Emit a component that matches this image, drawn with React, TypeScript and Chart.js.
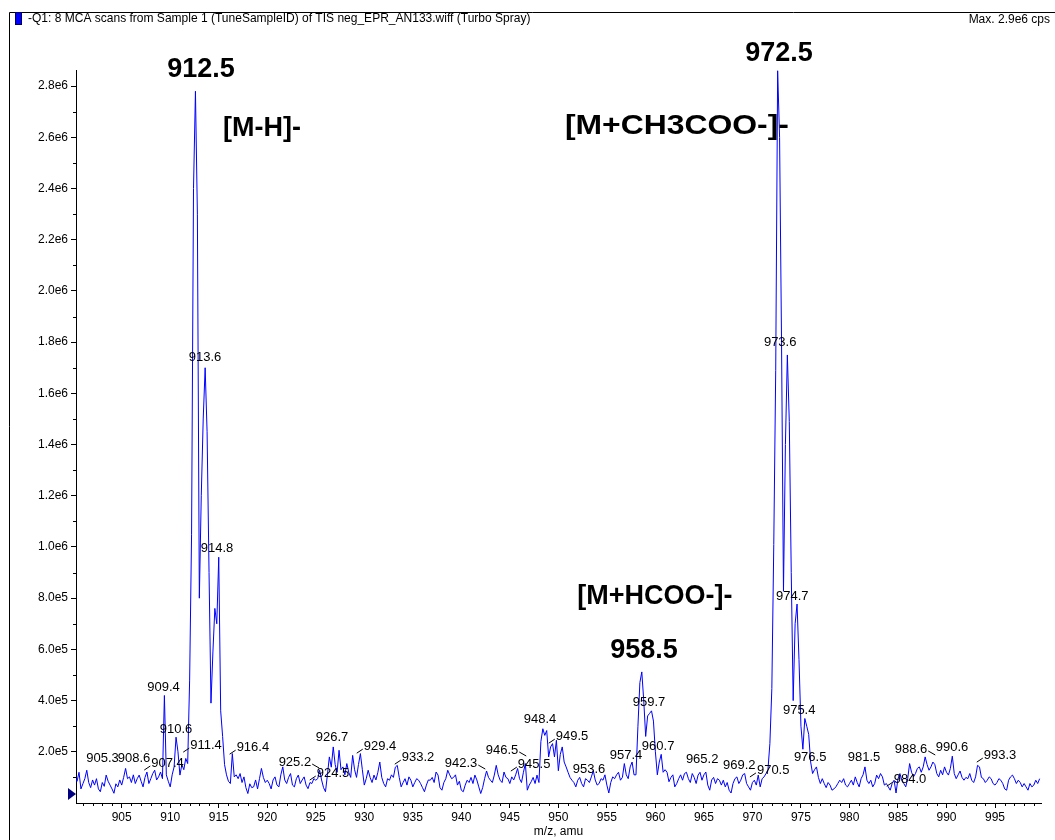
import React, { useEffect, useRef } from 'react';
import { Chart, registerables } from 'chart.js';

Chart.register(...registerables);

// ---------------- data ----------------
const TITLE_TEXT = '-Q1: 8 MCA scans from Sample 1 (TuneSampleID) of TIS neg_EPR_AN133.wiff (Turbo Spray)';
const MAX_TEXT = 'Max. 2.9e6 cps';
const X_AXIS_TITLE = 'm/z, amu';

// sampling grid of the spectrum (m/z of first point and spacing)
const MZ_START = 900.2;
const MZ_STEP = 0.2;

// intensities in thousands of cps, one row per amu (x.2, x.4, x.6, x.8, x+1.0)
const INTENSITY_K = [
  100, 85, 120, 55, 75, // 900
  95, 128, 80, 60, 90, // 901
  70, 95, 55, 44, 80, // 902
  65, 109, 85, 70, 55, // 903
  38, 75, 63, 90, 70, // 904
  100, 135, 95, 102, 80, // 905
  110, 76, 95, 109, 85, // 906
  63, 100, 121, 76, 95, // 907
  115, 128, 90, 102, 121, // 908
  95, 420, 110, 85, 63, // 909
  110, 141, 257, 200, 109, // 910
  150, 130, 174, 154, 480, // 911
  1050, 2400, 2780, 2300, 800, // 912
  1200, 1500, 1700, 1450, 900, // 913
  390, 590, 760, 700, 960, // 914
  360, 260, 150, 110, 85, // 915
  76, 193, 102, 110, 95, // 916
  115, 80, 102, 60, 37, // 917
  75, 60, 63, 90, 55, // 918
  95, 135, 100, 80, 89, // 919
  76, 55, 90, 102, 70, // 920
  63, 110, 141, 90, 76, // 921
  100, 115, 70, 63, 95, // 922
  109, 76, 90, 102, 70, // 923
  56, 80, 76, 95, 89, // 924
  95, 128, 90, 60, 44, // 925
  110, 180, 140, 219, 150, // 926
  120, 206, 130, 141, 110, // 927
  154, 120, 100, 186, 130, // 928
  100, 150, 193, 130, 70, // 929
  95, 128, 100, 80, 109, // 930
  90, 120, 160, 100, 76, // 931
  63, 95, 89, 110, 100, // 932
  140, 147, 100, 63, 80, // 933
  95, 70, 102, 89, 63, // 934
  80, 95, 89, 76, 60, // 935
  44, 70, 90, 89, 100, // 936
  80, 121, 109, 60, 50, // 937
  80, 95, 128, 110, 95, // 938
  100, 110, 70, 85, 50, // 939
  44, 70, 89, 80, 100, // 940
  76, 109, 90, 63, 37, // 941
  60, 95, 125, 100, 89, // 942
  80, 109, 147, 110, 89, // 943
  80, 121, 100, 95, 76, // 944
  102, 90, 110, 135, 95, // 945
  80, 120, 154, 50, 70, // 946
  83, 100, 76, 109, 80, // 947
  240, 290, 264, 283, 180, // 948
  219, 232, 180, 245, 126, // 949
  190, 219, 160, 141, 120, // 950
  100, 89, 80, 63, 89, // 951
  100, 76, 63, 95, 89, // 952
  80, 102, 126, 90, 70, // 953
  76, 95, 89, 110, 70, // 954
  39, 80, 102, 95, 110, // 955
  120, 89, 100, 154, 110, // 956
  95, 141, 160, 110, 110, // 957
  300, 470, 512, 400, 260, // 958
  340, 350, 360, 320, 200, // 959
  110, 160, 190, 120, 130, // 960
  120, 83, 100, 110, 63, // 961
  76, 95, 110, 89, 115, // 962
  120, 95, 80, 115, 100, // 963
  76, 109, 120, 89, 110, // 964
  121, 70, 50, 90, 100, // 965
  76, 95, 89, 70, 89, // 966
  63, 80, 50, 39, 76, // 967
  95, 102, 76, 89, 110, // 968
  115, 76, 63, 50, 80, // 969
  89, 70, 109, 63, 95, // 970
  102, 115, 130, 232, 447, // 971
  1010, 1690, 2860, 2600, 1800, // 972
  827, 1400, 1750, 1490, 900, // 973
  400, 700, 777, 560, 300, // 974
  210, 330, 300, 268, 160, // 975
  115, 130, 141, 100, 76, // 976
  95, 76, 60, 80, 70, // 977
  50, 55, 63, 76, 89, // 978
  80, 95, 70, 63, 76, // 979
  89, 70, 102, 80, 63, // 980
  95, 110, 141, 89, 76, // 981
  89, 63, 76, 109, 95, // 982
  115, 102, 70, 76, 63, // 983
  50, 76, 89, 39, 95, // 984
  115, 89, 76, 63, 95, // 985
  154, 120, 102, 115, 135, // 986
  141, 120, 141, 180, 150, // 987
  128, 141, 160, 150, 115, // 988
  102, 128, 110, 141, 120, // 989
  109, 135, 183, 115, 95, // 990
  110, 125, 100, 89, 100, // 991
  95, 115, 89, 80, 102, // 992
  147, 141, 100, 95, 80, // 993
  89, 102, 95, 76, 70, // 994
  80, 95, 89, 76, 55, // 995
  50, 89, 102, 109, 95, // 996
  76, 89, 80, 63, 76, // 997
  63, 50, 76, 63, 70, // 998
  89, 76, 95, // 999
];

// axis ranges and labelled ticks
const X_MIN = 900.29;
const X_MAX = 999.74;
const Y_MIN = 0;
const Y_MAX = 2863000;
const X_TICKS = [905, 910, 915, 920, 925, 930, 935, 940, 945, 950, 955, 960, 965, 970, 975, 980, 985, 990, 995];
const Y_TICKS = [200000, 400000, 600000, 800000, 1000000, 1200000, 1400000, 1600000, 1800000, 2000000, 2200000, 2400000, 2600000, 2800000];
const Y_TICK_LABELS = ['2.0e5', '4.0e5', '6.0e5', '8.0e5', '1.0e6', '1.2e6', '1.4e6', '1.6e6', '1.8e6', '2.0e6', '2.2e6', '2.4e6', '2.6e6', '2.8e6'];

// small peak annotations: text and its anchor (m/z, intensity); lead = leader line side
const PEAK_LABEL_TEXT = ['905.3', '908.6', '907.4', '909.4', '910.6', '911.4', '913.6', '914.8', '916.4', '925.2', '924.5', '926.7', '929.4', '933.2', '942.3', '946.5', '945.5', '948.4', '949.5', '953.6', '957.4', '959.7', '960.7', '965.2', '969.2', '970.5', '973.6', '974.7', '975.4', '976.5', '981.5', '984.0', '988.6', '990.6', '993.3'];
const PEAK_LABEL_MZ = [903.02, 906.27, 909.72, 909.31, 910.6, 913.69, 913.58, 914.82, 918.52, 922.85, 926.78, 926.67, 931.62, 935.54, 939.97, 944.19, 947.5, 948.11, 951.41, 953.16, 956.97, 959.35, 960.28, 964.82, 968.64, 972.14, 972.86, 974.1, 974.82, 975.95, 981.5, 986.24, 986.34, 990.57, 995.52];
const PEAK_LABEL_Y = [175e3, 175e3, 156e3, 452e3, 289e3, 226e3, 1742e3, 995e3, 218e3, 160e3, 117e3, 257e3, 222e3, 179e3, 156e3, 207e3, 152e3, 328e3, 261e3, 132e3, 187e3, 394e3, 222e3, 171e3, 148e3, 129e3, 1800e3, 807e3, 363e3, 179e3, 179e3, 93e3, 211e3, 218e3, 187e3];
const PEAK_LABEL_LEAD = ['', '', 'L', '', '', 'L', '', '', 'L', 'R', 'L', '', 'L', 'L', 'R', 'R', 'L', '', 'L', '', '', '', '', '', '', 'L', '', '', '', '', '', 'L', 'R', '', 'L'];

// large ion annotations
const ION_LABEL_TEXT = ['912.5', '[M-H]-', '972.5', '[M+CH3COO-]-', '[M+HCOO-]-', '958.5'];
const ION_LABEL_MZ = [913.17, 919.46, 972.74, 962.22, 959.95, 958.83];
const ION_LABEL_Y = [2863e3, 2636e3, 2926e3, 2644e3, 808e3, 597e3];
// rendered text widths in the reference (px)
const ION_LABEL_WIDTH = [70, 80, 68, 224, 160, 66];

// ---------------- component ----------------
const FONT = '"Liberation Sans", Arial, sans-serif';

export default function App() {
  const canvasRef = useRef<HTMLCanvasElement | null>(null);

  useEffect(() => {
    const canvas = canvasRef.current;
    if (!canvas) return;

    const points = INTENSITY_K.map((v, i) => ({
      x: +(MZ_START + MZ_STEP * i).toFixed(1),
      y: v * 1000,
    }));

    const decor = {
      id: 'decor',
      beforeDraw(chart: any) {
        const ctx = chart.ctx;
        ctx.save();
        ctx.fillStyle = '#ffffff';
        ctx.fillRect(0, 0, chart.width, chart.height);
        // frame
        ctx.strokeStyle = '#000';
        ctx.lineWidth = 1;
        ctx.beginPath();
        ctx.moveTo(9.5, 840);
        ctx.lineTo(9.5, 12.5);
        ctx.lineTo(1055, 12.5);
        ctx.stroke();
        // header marker
        ctx.fillStyle = '#0000ff';
        ctx.fillRect(15, 12, 7, 13);
        ctx.strokeStyle = '#000060';
        ctx.strokeRect(15.5, 12.5, 6, 12);
        // header text
        ctx.fillStyle = '#000';
        ctx.textBaseline = 'middle';
        ctx.textAlign = 'left';
        ctx.font = `12px ${FONT}`;
        const w = ctx.measureText(TITLE_TEXT).width;
        const fs = Math.min(13, 12 * 503 / w);
        ctx.font = `${fs}px ${FONT}`;
        ctx.fillText(TITLE_TEXT, 28, 19);
        ctx.textAlign = 'right';
        ctx.font = `12px ${FONT}`;
        ctx.fillText(MAX_TEXT, 1050, 20);
        ctx.restore();
      },
      afterDatasetsDraw(chart: any) {
        const ctx = chart.ctx;
        const xs = chart.scales.x;
        const ys = chart.scales.y;
        const area = chart.chartArea;
        ctx.save();
        // minor ticks
        ctx.strokeStyle = '#000';
        ctx.lineWidth = 1;
        ctx.beginPath();
        for (let m = Math.ceil(X_MIN); m <= X_MAX; m++) {
          if (m % 5 === 0) continue;
          const px = Math.round(xs.getPixelForValue(m)) + 0.5;
          ctx.moveTo(px, area.bottom);
          ctx.lineTo(px, area.bottom + 3);
        }
        for (let v = 100000; v <= Y_MAX; v += 200000) {
          const py = Math.round(ys.getPixelForValue(v)) + 0.5;
          ctx.moveTo(area.left - 3, py);
          ctx.lineTo(area.left, py);
        }
        ctx.stroke();
        // baseline marker triangle
        ctx.fillStyle = '#000080';
        ctx.beginPath();
        ctx.moveTo(68, 788);
        ctx.lineTo(76, 794);
        ctx.lineTo(68, 800);
        ctx.closePath();
        ctx.fill();
        // small peak labels
        ctx.fillStyle = '#000';
        ctx.font = `13px ${FONT}`;
        ctx.textAlign = 'center';
        ctx.textBaseline = 'middle';
        PEAK_LABEL_TEXT.forEach((t, i) => {
          const px = xs.getPixelForValue(PEAK_LABEL_MZ[i]);
          const py = ys.getPixelForValue(PEAK_LABEL_Y[i]);
          ctx.fillText(t, px, py);
          const w = ctx.measureText(t).width;
          const lead = PEAK_LABEL_LEAD[i];
          if (lead) {
            ctx.beginPath();
            if (lead === 'L') {
              const l = px - w / 2;
              ctx.moveTo(l - 7, py + 7);
              ctx.lineTo(l - 1, py + 3);
            } else {
              const r = px + w / 2;
              ctx.moveTo(r + 1, py + 2);
              ctx.lineTo(r + 8, py + 6);
            }
            ctx.stroke();
          }
        });
        // ion labels
        ctx.font = `bold 27px ${FONT}`;
        ION_LABEL_TEXT.forEach((t, i) => {
          const px = xs.getPixelForValue(ION_LABEL_MZ[i]);
          const py = ys.getPixelForValue(ION_LABEL_Y[i]);
          const w = ctx.measureText(t).width;
          const sx = ION_LABEL_WIDTH[i] / w;
          ctx.save();
          ctx.translate(px, py);
          ctx.scale(sx > 1.04 ? sx : 1, 1);
          ctx.fillText(t, 0, 0);
          ctx.restore();
        });
        ctx.restore();
      },
    };

    const chart = new Chart(canvas, {
      type: 'line',
      data: {
        datasets: [
          {
            data: points,
            borderColor: '#0000ff',
            borderWidth: 1,
            pointRadius: 0,
            tension: 0,
            fill: false,
          },
        ],
      },
      options: {
        animation: false,
        responsive: false,
        maintainAspectRatio: false,
        parsing: false,
        normalized: true,
        layout: { padding: { left: 0, right: 14, top: 70, bottom: 0 } },
        plugins: { legend: { display: false }, tooltip: { enabled: false }, title: { display: false } },
        scales: {
          x: {
            type: 'linear',
            min: X_MIN,
            max: X_MAX,
            afterFit: (s: any) => { s.height = 37; },
            afterBuildTicks: (s: any) => {
              s.ticks = X_TICKS.map((value) => ({ value }));
              s.min = X_MIN;
              s.max = X_MAX;
            },
            border: { display: true, color: '#000', width: 1 },
            grid: { drawOnChartArea: false, drawTicks: true, tickLength: 5, color: '#000' },
            ticks: {
              autoSkip: false,
              maxRotation: 0,
              padding: 2,
              color: '#000',
              font: { family: FONT, size: 12 },
              callback: (v: any) => String(v),
            },
            title: {
              display: true,
              text: X_AXIS_TITLE,
              color: '#000',
              font: { family: FONT, size: 12 },
              padding: { top: 0, bottom: 1 },
            },
          },
          y: {
            type: 'linear',
            min: Y_MIN,
            max: Y_MAX,
            afterFit: (s: any) => { s.width = 76; },
            afterBuildTicks: (s: any) => {
              s.ticks = Y_TICKS.map((value) => ({ value }));
              s.min = Y_MIN;
              s.max = Y_MAX;
            },
            border: { display: true, color: '#000', width: 1 },
            grid: { drawOnChartArea: false, drawTicks: true, tickLength: 5, color: '#000' },
            ticks: {
              autoSkip: false,
              padding: 3,
              color: '#000',
              font: { family: FONT, size: 12 },
              callback: (v: any, i: number) => Y_TICK_LABELS[i] ?? '',
            },
          },
        },
      },
      plugins: [decor],
    } as any);

    return () => chart.destroy();
  }, []);

  return (
    <div style={{ position: 'absolute', left: 0, top: 0, width: 1055, height: 840, background: '#fff' }}>
      <canvas ref={canvasRef} width={1055} height={840} style={{ width: 1055, height: 840, display: 'block' }} />
    </div>
  );
}
